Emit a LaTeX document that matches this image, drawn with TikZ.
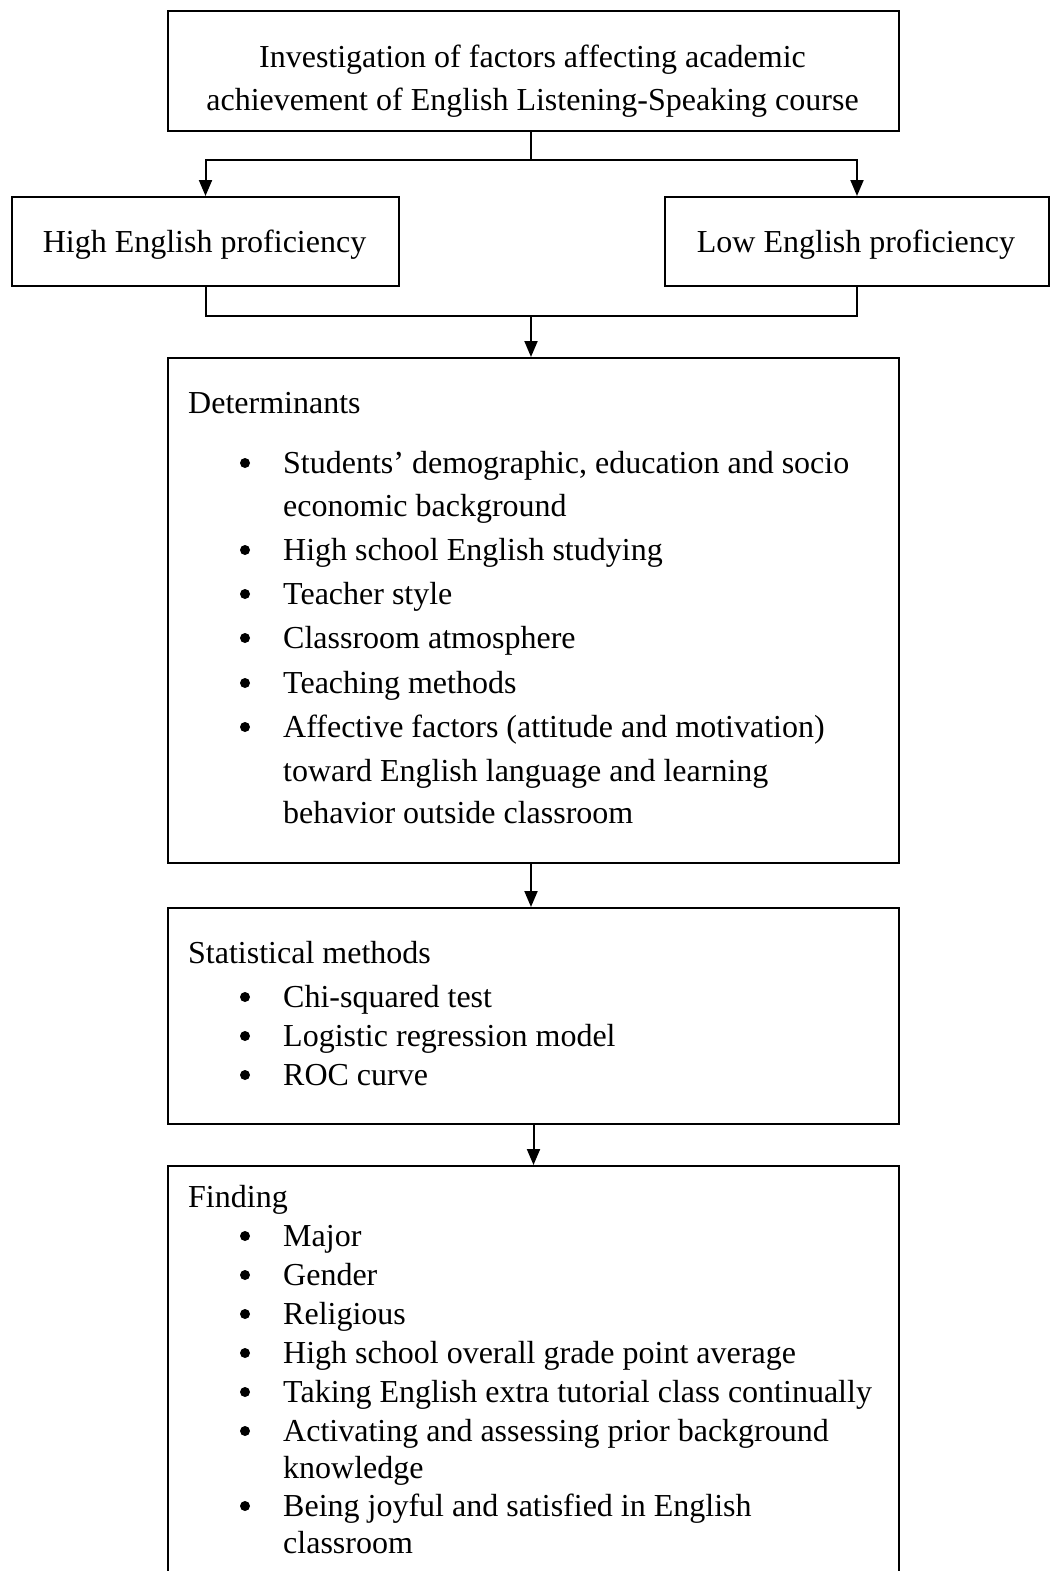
\documentclass[tikz,border=0pt]{standalone}
\usepackage{fontspec}
\setmainfont{Liberation Serif}
\usetikzlibrary{arrows.meta}
\begin{document}
\begin{tikzpicture}[x=1pt,y=-1pt,
  box/.style={draw, line width=2pt, rectangle, inner sep=0pt, anchor=north west},
  txt/.style={anchor=base west, inner sep=0pt, font=\fontsize{32}{38}\selectfont},
  ctr/.style={anchor=base, inner sep=0pt, font=\fontsize{32}{38}\selectfont},
  bul/.style={circle, fill=black, inner sep=0pt, minimum size=10pt},
  conn/.style={line width=2pt},
  arr/.style={conn, -{Triangle[width=13pt,length=16pt]}}]
\useasboundingbox (0,0) rectangle (1051,1571);
% boxes
\node[box, minimum width=731pt, minimum height=120pt] (top) at (167,10) {};
\node[box, minimum width=387pt, minimum height=89pt] (high) at (11,196) {};
\node[box, minimum width=384pt, minimum height=89pt] (low) at (664,196) {};
\node[box, minimum width=731pt, minimum height=505pt] (det) at (167,357) {};
\node[box, minimum width=731pt, minimum height=216pt] (stat) at (167,907) {};
\node[box, minimum width=731pt, minimum height=440pt] (find) at (167,1165) {};
% top text
\node[ctr] (t1) at (532.5,67) {Investigation of factors affecting academic};
\node[ctr] (t2) at (532.5,110) {achievement of English Listening-Speaking course};
\node[ctr] (h1) at (204.5,252) {High English proficiency};
\node[ctr] (l1) at (856,252) {Low English proficiency};
% determinants
\node[txt] (dh) at (188,413) {Determinants};
\foreach \yy/\tt [count=\i] in {473/{Students’ demographic, education and socio},
  516/{economic background},
  560/{High school English studying},
  604/{Teacher style},
  648/{Classroom atmosphere},
  693/{Teaching methods},
  737/{Affective factors (attitude and motivation)},
  781/{toward English language and learning},
  823/{behavior outside classroom}}
  \node[txt] (d\i) at (283,\yy) {\tt};
\foreach \yy [count=\i] in {473,560,604,648,693,737}
  \node[bul] (db\i) at (245,\yy-10) {};
% statistical
\node[txt] (sh) at (188,963) {Statistical methods};
\foreach \yy/\tt [count=\i] in {1007/{Chi-squared test},
  1046/{Logistic regression model},
  1085/{ROC curve}}
  {\node[txt] (s\i) at (283,\yy) {\tt};
   \node[bul] (sb\i) at (245,\yy-10) {};}
% finding
\node[txt] (fh) at (188,1207) {Finding};
\foreach \yy/\tt [count=\i] in {1246/{Major},
  1285/{Gender},
  1324/{Religious},
  1363/{High school overall grade point average},
  1402/{Taking English extra tutorial class continually},
  1441/{Activating and assessing prior background},
  1478/{knowledge},
  1516/{Being joyful and satisfied in English},
  1553/{classroom}}
  \node[txt] (f\i) at (283,\yy) {\tt};
\foreach \yy [count=\i] in {1246,1285,1324,1363,1402,1441,1516}
  \node[bul] (fb\i) at (245,\yy-10) {};
% connectors
\coordinate (j1) at (531,160);
\coordinate (j2) at (531,316);
\draw[conn] (top.south -| j1) -- (j1);
\draw[arr] (j1) -| (high.north);
\draw[arr] (j1) -| (low.north);
\draw[conn] (high.south) |- (j2);
\draw[conn] (low.south) |- (j2);
\draw[arr] (j2) -- (det.north -| j2);
\draw[arr] (det.south -| j1) -- (stat.north -| j1);
\draw[arr] (stat.south) -- (find.north);
\end{tikzpicture}
\end{document}
